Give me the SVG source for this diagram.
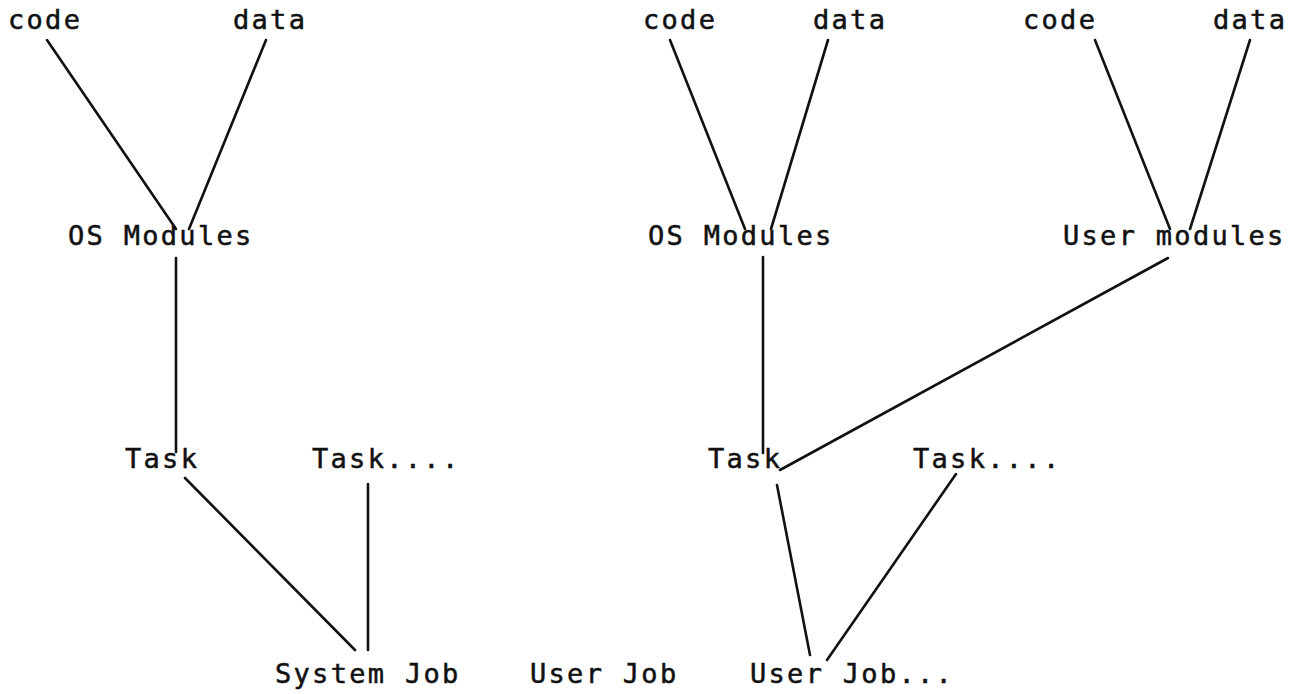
<svg xmlns="http://www.w3.org/2000/svg" width="1306" height="694" viewBox="0 0 1306 694">
  <style>
    .lbl { font-family: "DejaVu Sans Mono", "Liberation Mono", monospace; font-size: 27px; letter-spacing: 2.3px; fill: #111; stroke: #111; stroke-width: 0.5px; }
    .edge { stroke: #111; stroke-width: 2.6; fill: none; stroke-linecap: round; }
  </style>
  <rect width="1306" height="694" fill="#fff"/>

  <!-- connectors -->
  <g id="connectors">
    <!-- system side -->
    <line class="edge" x1="47" y1="40" x2="176" y2="229"/>
    <line class="edge" x1="266" y1="40" x2="189" y2="229"/>
    <line class="edge" x1="176" y1="258" x2="176" y2="452"/>
    <line class="edge" x1="185" y1="478" x2="355" y2="650"/>
    <line class="edge" x1="368" y1="484" x2="368" y2="650"/>
    <!-- user side -->
    <line class="edge" x1="670" y1="40" x2="745" y2="229"/>
    <line class="edge" x1="828" y1="40" x2="771" y2="229"/>
    <line class="edge" x1="763" y1="257" x2="763" y2="453"/>
    <line class="edge" x1="1095" y1="40" x2="1170" y2="229"/>
    <line class="edge" x1="1250" y1="40" x2="1190" y2="229"/>
    <line class="edge" x1="1168" y1="258" x2="780" y2="470"/>
    <line class="edge" x1="777" y1="485" x2="810" y2="655"/>
    <line class="edge" x1="956" y1="474" x2="827" y2="660"/>
  </g>

  <!-- system job tree -->
  <g id="sys-code"><text class="lbl" x="8" y="29">code</text></g>
  <g id="sys-data"><text class="lbl" x="233" y="29">data</text></g>
  <g id="sys-os-modules"><text class="lbl" x="68" y="245">OS Modules</text></g>
  <g id="sys-task"><text class="lbl" x="125" y="468">Task</text></g>
  <g id="sys-task-more"><text class="lbl" x="312" y="468">Task....</text></g>
  <g id="system-job"><text class="lbl" x="275" y="683">System Job</text></g>

  <g id="user-job"><text class="lbl" x="530" y="683">User Job</text></g>

  <!-- user job tree -->
  <g id="usr-code-os"><text class="lbl" x="643" y="29">code</text></g>
  <g id="usr-data-os"><text class="lbl" x="813" y="29">data</text></g>
  <g id="usr-code-um"><text class="lbl" x="1023" y="29">code</text></g>
  <g id="usr-data-um"><text class="lbl" x="1213" y="29">data</text></g>
  <g id="usr-os-modules"><text class="lbl" x="648" y="245">OS Modules</text></g>
  <g id="usr-user-modules"><text class="lbl" x="1063" y="245">User modules</text></g>
  <g id="usr-task"><text class="lbl" x="708" y="468">Task</text></g>
  <g id="usr-task-more"><text class="lbl" x="913" y="468">Task....</text></g>
  <g id="user-job-more"><text class="lbl" x="750" y="683">User Job...</text></g>
</svg>
